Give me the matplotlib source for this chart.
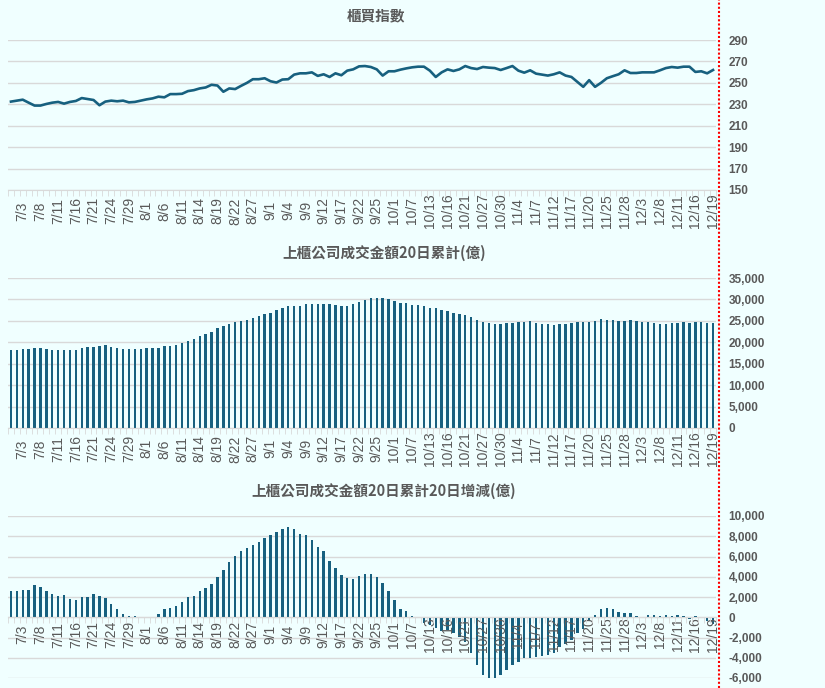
import numpy as np
import matplotlib.pyplot as plt
from matplotlib.lines import Line2D

dates = ['7/1', '7/2', '7/3', '7/4', '7/7', '7/8', '7/9', '7/10', '7/11', '7/14',
         '7/15', '7/16', '7/17', '7/18', '7/21', '7/22', '7/23', '7/24', '7/25', '7/28',
         '7/29', '7/30', '7/31', '8/1', '8/4', '8/5', '8/6', '8/7', '8/8', '8/11',
         '8/12', '8/13', '8/14', '8/15', '8/18', '8/19', '8/20', '8/21', '8/22', '8/25',
         '8/26', '8/27', '8/28', '8/29', '9/1', '9/2', '9/3', '9/4', '9/5', '9/8',
         '9/9', '9/10', '9/11', '9/12', '9/15', '9/16', '9/17', '9/18', '9/19', '9/22',
         '9/23', '9/24', '9/25', '9/26', '9/30', '10/1', '10/2', '10/3', '10/7', '10/8',
         '10/9', '10/13', '10/14', '10/15', '10/16', '10/17', '10/20', '10/21', '10/22', '10/23',
         '10/27', '10/28', '10/29', '10/30', '10/31', '11/3', '11/4', '11/5', '11/6', '11/7',
         '11/10', '11/11', '11/12', '11/13', '11/14', '11/17', '11/18', '11/19', '11/20', '11/21',
         '11/24', '11/25', '11/26', '11/27', '11/28', '12/1', '12/2', '12/3', '12/4', '12/5',
         '12/8', '12/9', '12/10', '12/11', '12/12', '12/15', '12/16', '12/17', '12/18', '12/19']

# 櫃買指數
otc_index = [232.5, 233.4, 234.3, 231.5, 228.8, 228.8, 230.3, 231.5, 232.2, 230.6,
             232.2, 233.1, 235.8, 234.9, 234.0, 229.1, 232.5, 233.4, 232.8, 233.4,
             231.8, 232.2, 233.4, 234.6, 235.5, 237.1, 236.5, 239.5, 239.5, 239.8,
             242.3, 243.2, 244.8, 245.7, 248.2, 247.5, 241.7, 244.8, 244.2, 247.2,
             250.0, 253.4, 253.4, 254.3, 251.5, 250.3, 253.1, 253.4, 257.7, 258.9,
             258.9, 259.8, 256.5, 258.0, 255.5, 258.9, 257.1, 261.4, 262.6, 265.4,
             265.7, 264.8, 262.6, 256.8, 260.8, 260.8, 262.3, 263.5, 264.5, 265.1,
             265.1, 261.4, 255.5, 259.8, 262.6, 261.1, 262.6, 265.7, 263.8, 262.9,
             264.8, 264.2, 263.8, 262.0, 263.8, 265.7, 261.4, 259.5, 261.7, 258.6,
             257.7, 256.8, 258.0, 259.8, 256.8, 255.5, 250.9, 246.3, 252.5, 246.3,
             250.0, 254.3, 256.2, 258.0, 261.7, 259.2, 259.2, 259.8, 259.8, 259.8,
             261.7, 263.8, 264.8, 264.2, 265.1, 265.1, 260.2, 260.8, 258.9, 262.0]

# 上櫃公司成交金額20日累計(億)
turnover_20d = [18200, 18200, 18430, 18430, 18670, 18670, 18430, 18200, 18200, 18200,
                18200, 18200, 18670, 18900, 18900, 19130, 19370, 18900, 18670, 18430,
                18430, 18430, 18430, 18670, 18670, 18670, 19130, 19130, 19370, 19840,
                20300, 20780, 21480, 21950, 22420, 23350, 23820, 24290, 24760, 25000,
                25230, 25700, 26160, 26630, 26870, 27570, 28040, 28510, 28510, 28510,
                28980, 28980, 28980, 28980, 28980, 28740, 28510, 28510, 28980, 29440,
                29910, 30380, 30380, 30380, 30150, 29680, 29210, 29210, 28740, 28740,
                28510, 28040, 28040, 27570, 27340, 26870, 26630, 26400, 25930, 25230,
                24760, 24520, 24290, 24290, 24520, 24520, 24760, 24760, 25000, 24520,
                24290, 24290, 24060, 24290, 24290, 24520, 24760, 24760, 24760, 25000,
                25470, 25230, 25230, 25000, 25000, 25230, 25000, 24760, 24760, 24520,
                24290, 24290, 24520, 24520, 24760, 24520, 24760, 24760, 24520, 24520]

# 上櫃公司成交金額20日累計20日增減(億)
turnover_chg = [2620, 2620, 2720, 2720, 3210, 3020, 2620, 2330, 2130, 2230,
                1840, 1740, 2030, 2030, 2330, 2130, 1940, 1340, 850, 360,
                160, 160, 30, -100, 0, 360, 850, 950, 1150, 1540,
                2030, 2130, 2620, 2920, 3310, 4000, 4690, 5480, 6070, 6560,
                6860, 7150, 7450, 7840, 8130, 8430, 8720, 8920, 8720, 8230,
                8130, 7640, 6950, 6560, 5580, 4890, 4200, 3900, 3800, 4100,
                4300, 4300, 4000, 3410, 2620, 1740, 800, 610, 130, -100,
                -560, -720, -1020, -1320, -1300, -1540, -1940, -2400, -3510, -4690,
                -5670, -5970, -5970, -5670, -5180, -4690, -4390, -4000, -4000, -3900,
                -3800, -3710, -3510, -2920, -2620, -2230, -1540, -1150, -300, 260,
                780, 900, 780, 500, 400, 400, 120, 0, 260, 260,
                160, 260, 160, 260, 160, -200, 160, 20, -390, -650]

bg = '#F0FFFF'
blue = '#17607F'
grid_c = '#D9D9D9'
txt = '#595959'

plt.rcParams['font.family'] = ['Liberation Sans', 'Noto Sans CJK TC']

W, H = 825, 688
fig = plt.figure(figsize=(W / 100, H / 100), dpi=100, facecolor=bg)
x = np.arange(len(dates))
left, width = 8 / W, 708 / W


def style(ax, ymin, ymax, step, label_pad):
    ax.set_facecolor(bg)
    ax.set_xlim(-0.5, len(dates) - 0.5)
    ax.set_ylim(ymin, ymax)
    yt = np.arange(ymin, ymax + 1, step)
    ax.set_yticks(yt)
    ax.set_yticklabels(['{:,}'.format(int(v)) for v in yt], fontweight='bold')
    ax.yaxis.tick_right()
    ax.tick_params(axis='y', length=0, pad=9, labelsize=8.5, labelcolor=txt)
    for v in yt:
        ax.axhline(v, color=grid_c, lw=1, zorder=0.5)
    for s in ['top', 'left', 'right']:
        ax.spines[s].set_visible(False)
    ax.spines['bottom'].set_color(grid_c)
    ax.set_xticks(x[2::3])
    ax.set_xticklabels(dates[2::3], rotation=90, va='center')
    ax.set_xticks(np.arange(-0.5, len(dates)), minor=True)
    ax.tick_params(axis='x', which='major', length=0, pad=label_pad,
                   labelsize=10, labelcolor=txt)
    ax.tick_params(axis='x', which='minor', length=4, color=grid_c)


ax1 = fig.add_axes([left, 1 - 190 / H, width, 150 / H])
style(ax1, 150, 290, 20, 15)
ax1.plot(x, otc_index, color=blue, lw=1.9)

ax2 = fig.add_axes([left, 1 - 428 / H, width, 150 / H])
style(ax2, 0, 35000, 5000, 15)
ax2.bar(x, turnover_20d, width=0.42, color=blue)

ax3 = fig.add_axes([left, 1 - 678 / H, width, 162 / H])
ax3.spines['bottom'].set_position(('data', 0))
style(ax3, -6000, 10000, 2000, 12.5)
ax3.bar(x, turnover_chg, width=0.42, color=blue)

title_kw = dict(ha='center', va='center', fontsize=10.5, fontweight='bold',
                color=txt, family=['Noto Sans CJK TC'])
fig.text(376 / W, 1 - 15 / H, '櫃買指數', **title_kw)
fig.text(384 / W, 1 - 253 / H, '上櫃公司成交金額20日累計(億)', **title_kw)
fig.text(384 / W, 1 - 491 / H, '上櫃公司成交金額20日累計20日增減(億)', **title_kw)

fig.add_artist(Line2D([719 / W, 719 / W], [0, 1], transform=fig.transFigure,
                      color='red', lw=1.5, ls=(0, (1, 1))))

fig.savefig('out.png', dpi=100, facecolor=bg)
